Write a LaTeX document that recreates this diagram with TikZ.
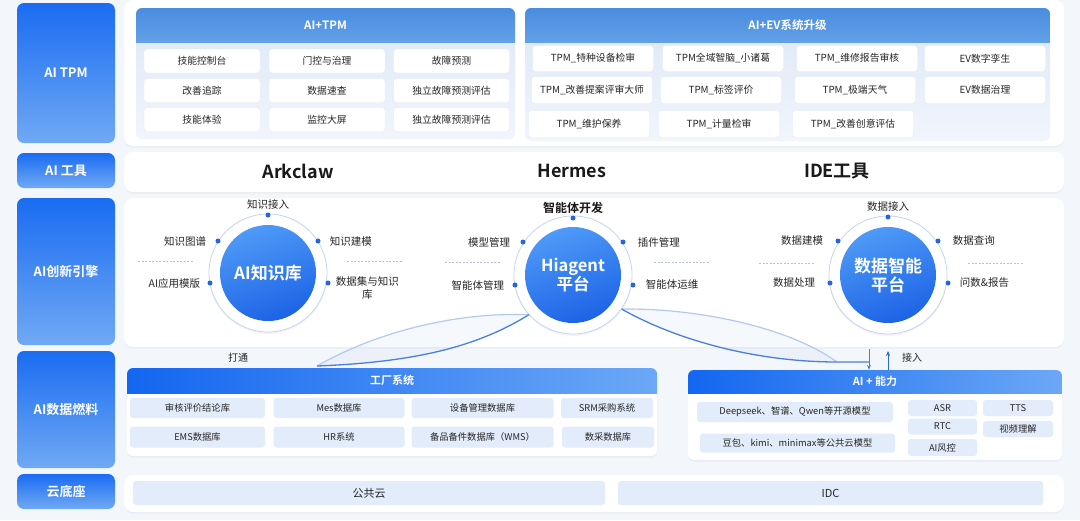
\documentclass[tikz,border=0pt]{standalone}
\usepackage{fontspec}
\setmainfont{Noto Sans CJK SC}[BoldFont={Noto Sans CJK SC Bold}]
\usetikzlibrary{shadows,arrows.meta}
\definecolor{bgc}{HTML}{F3F6FB}
\definecolor{labtop}{HTML}{1A6CF2}
\definecolor{labbot}{HTML}{70A9F4}
\definecolor{hdrtop}{HTML}{4A8CDF}
\definecolor{hdrbot}{HTML}{62A0E8}
\definecolor{grptop}{HTML}{DCE7F7}
\definecolor{grpbot}{HTML}{F1F5FC}
\definecolor{cellb}{HTML}{E3EAF4}
\definecolor{lcell}{HTML}{E3ECFA}
\definecolor{txtc}{HTML}{262626}
\definecolor{dotc}{HTML}{2566DC}
\definecolor{coretop}{HTML}{4E9AF7}
\definecolor{corebot}{HTML}{1D63E6}
\definecolor{ringc}{HTML}{C5D4EE}
\definecolor{dashc}{HTML}{B8C2D0}
\definecolor{fhl}{HTML}{1366F0}
\definecolor{fhr}{HTML}{6CA8F6}
\definecolor{curvec}{HTML}{4A80DC}
\definecolor{curvel}{HTML}{B4C9EE}
\definecolor{shadc}{HTML}{9DB0CF}
\begin{document}
\begin{tikzpicture}[x=1pt,y=-1pt,
  lab/.style={rounded corners=7pt, top color=labtop, bottom color=labbot, text=white,
    font=\bfseries\fontsize{13}{15}\selectfont, inner sep=0pt},
  panel/.style={rounded corners=9pt, fill=white,
    drop shadow={shadow xshift=0pt, shadow yshift=-1.5pt, opacity=.12, fill=shadc}},
  grp/.style={rounded corners=6pt, top color=grptop, bottom color=grpbot, inner sep=0pt},
  wgrp/.style={rounded corners=6pt, fill=white, inner sep=0pt,
    drop shadow={shadow xshift=0pt, shadow yshift=-1.5pt, opacity=.15, fill=shadc}},
  hdr/.style={top color=hdrtop, bottom color=hdrbot, text=white,
    font=\bfseries\fontsize{11.5}{13}\selectfont, inner sep=0pt},
  fhdr/.style={left color=fhl, right color=fhr, text=white,
    font=\bfseries\fontsize{11}{13}\selectfont, inner sep=0pt},
  cellw/.style={fill=white, draw=cellb, line width=.4pt, rounded corners=3pt, inner sep=0pt,
    font=\fontsize{9.8}{11}\selectfont, text=txtc},
  cellb/.style={fill=lcell, rounded corners=3pt, inner sep=0pt,
    font=\fontsize{9.3}{11}\selectfont, text=txtc},
  tool/.style={font=\bfseries\fontsize{18}{20}\selectfont, text=black!90},
  ring/.style={circle, minimum size=118pt, fill=white, draw=ringc, line width=.8pt, inner sep=0pt,
    drop shadow={shadow xshift=0pt, shadow yshift=-2pt, opacity=.12, fill=shadc}},
  core/.style={circle, minimum size=96pt, inner sep=0pt, top color=coretop, bottom color=corebot,
    shading angle=20, text=white, align=center, font=\bfseries\fontsize{17}{19}\selectfont},
  dot/.style={circle, fill=dotc, minimum size=5pt, inner sep=0pt},
  clbl/.style={font=\fontsize{10.5}{13}\selectfont, text=txtc, inner sep=0pt, align=center},
  sep/.style={dashc, dashed, line width=.5pt, dash pattern=on 2pt off 1.5pt},
  plain/.style={font=\fontsize{10}{12}\selectfont, text=txtc, inner sep=0pt},
]
\useasboundingbox (0,0) rectangle (1080,520);
\fill[bgc] (0,0) rectangle (1080,520);

% ---------- left labels ----------
\node[lab, minimum width=98pt, minimum height=140pt] (ltpm) at (66,73) {AI TPM};
\node[lab, minimum width=98pt, minimum height=35pt] (ltool) at (66,170.5) {AI 工具};
\node[lab, minimum width=98pt, minimum height=147pt] (leng) at (66,271.5) {AI创新引擎};
\node[lab, minimum width=98pt, minimum height=117pt] (lfuel) at (66,409.5) {AI数据燃料};
\node[lab, minimum width=98pt, minimum height=35pt] (lcloud) at (66,491.5) {云底座};

% ---------- panels ----------
\node[panel, minimum width=940pt, minimum height=146pt] (ptop) at (594,73) {};
\node[panel, minimum width=940pt, minimum height=40pt] (ptool) at (594,172) {};
\node[panel, minimum width=940pt, minimum height=149pt] (peng) at (594,272.5) {};
\node[panel, minimum width=940pt, minimum height=37pt] (pcloud) at (594,493.5) {};

% ---------- AI+TPM ----------
\node[grp, minimum width=379pt, minimum height=131pt] (gtpm) at (325.5,73.5) {};
\begin{scope}
\clip[rounded corners=6pt] (136,8) rectangle (515,139);
\node[hdr, minimum width=379pt, minimum height=34pt] (htpm) at (325.5,25) {AI+TPM};
\end{scope}
\node[cellw, minimum width=116pt, minimum height=24pt] (t11) at (202,61) {技能控制台};
\node[cellw, minimum width=116pt, minimum height=24pt] (t12) at (327,61) {门控与治理};
\node[cellw, minimum width=116pt, minimum height=24pt] (t13) at (451.5,61) {故障预测};
\node[cellw, minimum width=116pt, minimum height=24pt] (t21) at (202,90.5) {改善追踪};
\node[cellw, minimum width=116pt, minimum height=24pt] (t22) at (327,90.5) {数据速查};
\node[cellw, minimum width=116pt, minimum height=24pt] (t23) at (451.5,90.5) {独立故障预测评估};
\node[cellw, minimum width=116pt, minimum height=24pt] (t31) at (202,119.5) {技能体验};
\node[cellw, minimum width=116pt, minimum height=24pt] (t32) at (327,119.5) {监控大屏};
\node[cellw, minimum width=116pt, minimum height=24pt] (t33) at (451.5,119.5) {独立故障预测评估};

% ---------- AI+EV ----------
\node[grp, minimum width=525pt, minimum height=133pt] (gev) at (787.5,74.5) {};
\begin{scope}
\clip[rounded corners=6pt] (525,8) rectangle (1050,141);
\node[hdr, minimum width=525pt, minimum height=34pt] (hev) at (787.5,25) {AI+EV系统升级};
\end{scope}
\node[cellw, minimum width=121pt, minimum height=26pt] (e11) at (593,58.5) {TPM\_特种设备检审};
\node[cellw, minimum width=121pt, minimum height=26pt] (e12) at (723,58.5) {TPM全域智脑\_小诸葛};
\node[cellw, minimum width=121pt, minimum height=26pt] (e13) at (857,58.5) {TPM\_维修报告审核};
\node[cellw, minimum width=121pt, minimum height=26pt] (e14) at (985,58.5) {EV数字孪生};
\node[cellw, minimum width=121pt, minimum height=27pt] (e21) at (592,90) {TPM\_改善提案评审大师};
\node[cellw, minimum width=121pt, minimum height=27pt] (e22) at (721,90) {TPM\_标签评价};
\node[cellw, minimum width=121pt, minimum height=27pt] (e23) at (855,90) {TPM\_极端天气};
\node[cellw, minimum width=121pt, minimum height=27pt] (e24) at (985,90) {EV数据治理};
\node[cellw, minimum width=121pt, minimum height=27pt] (e31) at (589,124) {TPM\_维护保养};
\node[cellw, minimum width=121pt, minimum height=27pt] (e32) at (719,124) {TPM\_计量检审};
\node[cellw, minimum width=121pt, minimum height=27pt] (e33) at (853,124) {TPM\_改善创意评估};

% ---------- AI tools ----------
\node[tool] (ark) at (298,171) {Arkclaw};
\node[tool] (her) at (572,171) {Hermes};
\node[tool] (ide) at (837,171) {IDE工具};

% ---------- separators ----------
\draw[sep] (138,261) -- (193,261);
\draw[sep] (347,261) -- (402,261);
\draw[sep] (445,262) -- (500,262);
\draw[sep] (654,262) -- (709,262);
\draw[sep] (759,263) -- (814,263);
\draw[sep] (968,263) -- (1023,263);

% ---------- circles ----------
\node[ring] (kring) at (268,273) {};
\node[ring] (hring) at (573,275) {};
\node[ring] (dring) at (888,275) {};
\node[core] (kcore) at (268,273) {AI知识库};
\node[core, font=\bfseries\fontsize{16.5}{19}\selectfont] (hcore) at (573,275) {Hiagent\\平台};
\node[core] (dcore) at (888,275) {数据智能\\平台};

% dots AI知识库
\node[dot] (kd1) at ([shift={(0,-58)}]kcore.center) {};
\node[dot] (kd2) at ([shift={(-50,-32)}]kcore.center) {};
\node[dot] (kd3) at ([shift={(50,-32)}]kcore.center) {};
\node[dot] (kd4) at ([shift={(-58,10)}]kcore.center) {};
\node[dot] (kd5) at ([shift={(60,10)}]kcore.center) {};
\node[clbl, anchor=south] (kl1) at ([yshift=3pt]kd1.north) {知识接入};
\node[clbl, anchor=east] (kl2) at ([xshift=-9pt]kd2.west) {知识图谱};
\node[clbl, anchor=west] (kl3) at ([xshift=9pt]kd3.east) {知识建模};
\node[clbl, anchor=east] (kl4) at ([xshift=-7pt]kd4.west) {AI应用模版};
\node[clbl, anchor=north west] (kl5) at ([xshift=5pt,yshift=7pt]kd5.east) {数据集与知识\\库};

% dots Hiagent
\node[dot] (hd1) at ([shift={(0,-57)}]hcore.center) {};
\node[dot] (hd2) at ([shift={(-50,-33)}]hcore.center) {};
\node[dot] (hd3) at ([shift={(50,-33)}]hcore.center) {};
\node[dot] (hd4) at ([shift={(-58,10)}]hcore.center) {};
\node[dot] (hd5) at ([shift={(60,10)}]hcore.center) {};
\node[clbl, anchor=south, font=\bfseries\fontsize{12}{14}\selectfont, text=black!90] (hl1) at ([yshift=1pt]hd1.north) {智能体开发};
\node[clbl, anchor=east] (hl2) at ([xshift=-10pt]hd2.west) {模型管理};
\node[clbl, anchor=west] (hl3) at ([xshift=12pt]hd3.east) {插件管理};
\node[clbl, anchor=east] (hl4) at ([xshift=-8pt]hd4.west) {智能体管理};
\node[clbl, anchor=west] (hl5) at ([xshift=10pt]hd5.east) {智能体运维};

% dots 数据智能
\node[dot] (dd1) at ([shift={(0,-58)}]dcore.center) {};
\node[dot] (dd2) at ([shift={(-50,-34)}]dcore.center) {};
\node[dot] (dd3) at ([shift={(50,-34)}]dcore.center) {};
\node[dot] (dd4) at ([shift={(-58,8)}]dcore.center) {};
\node[dot] (dd5) at ([shift={(60,8)}]dcore.center) {};
\node[clbl, anchor=south] (dl1) at ([yshift=3pt]dd1.north) {数据接入};
\node[clbl, anchor=east] (dl2) at ([xshift=-12pt]dd2.west) {数据建模};
\node[clbl, anchor=west] (dl3) at ([xshift=12pt]dd3.east) {数据查询};
\node[clbl, anchor=east] (dl4) at ([xshift=-12pt]dd4.west) {数据处理};
\node[clbl, anchor=west] (dl5) at ([xshift=9pt]dd5.east) {问数\&报告};

% ---------- 工厂系统 ----------
\node[wgrp, minimum width=530pt, minimum height=88pt] (gfac) at (392,412) {};
\begin{scope}
\clip[rounded corners=6pt] (127,368) rectangle (657,456);
\node[fhdr, minimum width=530pt, minimum height=25pt] (hfac) at (392,380.5) {工厂系统};
\end{scope}
\node[cellb, minimum width=135pt, minimum height=20pt] (f11) at (197.5,408) {审核评价结论库};
\node[cellb, minimum width=131pt, minimum height=20pt] (f12) at (339,408) {Mes数据库};
\node[cellb, minimum width=142pt, minimum height=20pt] (f13) at (482.5,408) {设备管理数据库};
\node[cellb, minimum width=92pt, minimum height=20pt] (f14) at (607,408) {SRM采购系统};
\node[cellb, minimum width=135pt, minimum height=21pt] (f21) at (197.5,437) {EMS数据库};
\node[cellb, minimum width=131pt, minimum height=21pt] (f22) at (339,437) {HR系统};
\node[cellb, minimum width=142pt, minimum height=21pt] (f23) at (482.5,437) {备品备件数据库（WMS）};
\node[cellb, minimum width=92pt, minimum height=21pt] (f24) at (608,437) {数采数据库};
\node[plain] (dt) at (238,358) {打通};

% ---------- AI + 能力 ----------
\node[wgrp, minimum width=374pt, minimum height=90pt] (gai) at (875,415) {};
\begin{scope}
\clip[rounded corners=6pt] (688,370) rectangle (1062,460);
\node[fhdr, minimum width=374pt, minimum height=23pt] (hai) at (875,381.5) {AI + 能力};
\end{scope}
\node[cellb, minimum width=196pt, minimum height=20pt] (a1) at (795,412) {Deepseek、智谱、Qwen等开源模型};
\node[cellb, minimum width=195pt, minimum height=19pt] (a2) at (797.5,443) {豆包、kimi、minimax等公共云模型};
\node[cellb, minimum width=69pt, minimum height=16pt] (a3) at (942.5,408) {ASR};
\node[cellb, minimum width=69pt, minimum height=16pt] (a4) at (942.5,426.5) {RTC};
\node[cellb, minimum width=69pt, minimum height=17pt] (a5) at (942.5,447.5) {AI风控};
\node[cellb, minimum width=70pt, minimum height=16pt] (a6) at (1018,408) {TTS};
\node[cellb, minimum width=70pt, minimum height=16pt] (a7) at (1018,429) {视频理解};

% ---------- cloud ----------
\node[cellb, minimum width=472pt, minimum height=24pt, font=\fontsize{11}{13}\selectfont] (pub) at (369,493) {公共云};
\node[cellb, minimum width=425pt, minimum height=24pt, font=\fontsize{11}{13}\selectfont] (idc) at (830.5,493) {IDC};

% ---------- connectors ----------
\coordinate (mL) at (317,366);
\fill[curvel, opacity=.12] (mL) .. controls (380,330) and (460,312) .. (hring.222)
  .. controls (480,345) and (420,362) .. (mL);
\draw[curvel, line width=1.2pt] (mL) .. controls (380,330) and (460,312) .. (hring.222);
\draw[curvec, line width=1.3pt] (mL) .. controls (420,362) and (480,345) .. (hring.222);

\coordinate (mR) at (869,362);
\coordinate (mR2) at (837,362);
\fill[curvel, opacity=.12] (hring.-35) .. controls (700,308) and (790,328) .. (mR2)
  .. controls (760,362) and (680,342) .. (hring.-35);
\draw[curvel, line width=1.2pt] (hring.-35) .. controls (700,308) and (790,328) .. (mR2);
\draw[curvec, line width=1.3pt] (hring.-35) .. controls (680,342) and (760,362) .. (mR2) -- (mR);
\coordinate (aT) at (869,349);
\draw[curvec, line width=1pt, -{Stealth[length=5pt,width=4pt]}] (aT) -- (hai.north -| aT);
\coordinate (uT) at (888,351);
\draw[dotc, line width=1pt, -{Stealth[length=5pt,width=4pt]}] (hai.north -| uT) -- (uT);
\node[plain, anchor=west] (jr) at (902,358) {接入};
\end{tikzpicture}
\end{document}
